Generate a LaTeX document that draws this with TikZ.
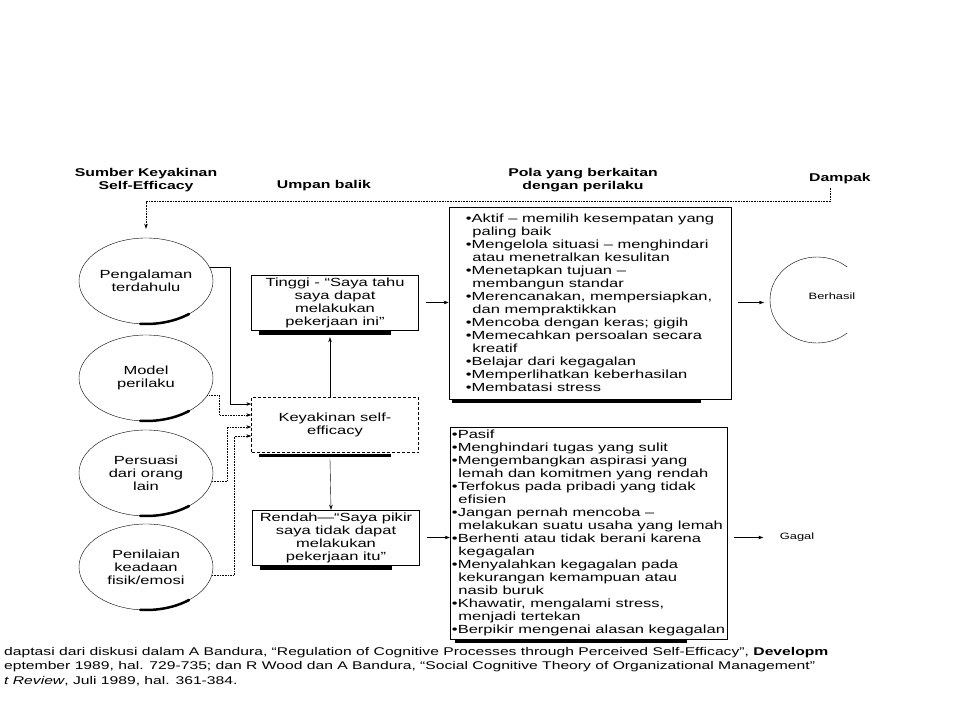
\documentclass[tikz,border=0pt]{standalone}
\usepackage{fontspec}
\setmainfont{Liberation Sans}[FakeStretch=1.4]
\usetikzlibrary{shapes.geometric, arrows.meta}

\newcommand{\teksisi}{\fontsize{11.8}{13}\selectfont}
\newcommand{\teksjudul}{\bfseries\fontsize{11.3}{12.5}\selectfont}
\newcommand{\tekskecil}{\fontsize{9.2}{11}\selectfont}
\newcommand{\tekssumber}{\fontsize{11.2}{14.5}\selectfont}
\newcommand{\itm}{\textbullet}
\newcommand{\cnt}{\hspace*{0.55em}}

\begin{document}
\begin{tikzpicture}[x=1pt, y=-1pt,
    sumber/.style={ellipse, draw, minimum width=134pt, minimum height=86pt, inner sep=0pt, align=center, font=\teksisi},
    kotak/.style={draw, minimum width=167pt, minimum height=55pt, inner sep=2pt, align=center, font=\teksisi},
    daftar/.style={draw, align=left, inner sep=0pt, font=\teksisi},
    judul/.style={align=center, font=\teksjudul},
    panah/.style={-{Stealth[length=5pt, width=3.5pt]}},
    titik/.style={densely dotted, semithick},
    bayang/.style={line width=3.5pt},
]

    % --- Parameter elips sumber ---
    \def\ex{146}    % pusat x elips
    \def\erx{67}    % jari-jari x
    \def\ery{43}    % jari-jari y

    \useasboundingbox (0,0) rectangle (959,719);

    % =========================================================================
    % JUDUL KOLOM
    % =========================================================================
    \node[judul] (jsumber) at (146,180) {Sumber Keyakinan\\Self-Efficacy};
    \node[judul] (jumpan) at (324,186) {Umpan balik};
    \node[judul] (jpola) at (583,180) {Pola yang berkaitan\\dengan perilaku};
    \node[judul] (dampak) at (840,179) {Dampak};

    % =========================================================================
    % SUMBER KEYAKINAN (elips kiri)
    % =========================================================================
    \node[sumber] (e1) at (\ex,281) {Pengalaman\\terdahulu};
    \node[sumber] (e2) at (\ex,378) {Model\\perilaku};
    \node[sumber] (e3) at (\ex,473) {Persuasi\\dari orang\\lain};
    \node[sumber] (e4) at (\ex,567) {Penilaian\\keadaan\\fisik/emosi};

    % bayangan elips
    \draw[line width=2.5pt, line cap=round] (e1.center) ++(50:\erx\space and \ery) arc[start angle=50, end angle=95, x radius=\erx, y radius=\ery];
    \draw[line width=2.5pt, line cap=round] (e2.center) ++(50:\erx\space and \ery) arc[start angle=50, end angle=95, x radius=\erx, y radius=\ery];
    \draw[line width=2.5pt, line cap=round] (e3.center) ++(50:\erx\space and \ery) arc[start angle=50, end angle=95, x radius=\erx, y radius=\ery];
    \draw[line width=2.5pt, line cap=round] (e4.center) ++(50:\erx\space and \ery) arc[start angle=50, end angle=95, x radius=\erx, y radius=\ery];

    % =========================================================================
    % KEYAKINAN SELF-EFFICACY (kotak tengah)
    % =========================================================================
    \node[kotak] (tinggi) at (335,302.5) {Tinggi - “Saya tahu\\saya dapat\\melakukan\\pekerjaan ini”};
    \node[kotak, densely dashed] (keyakinan) at (335,425) {Keyakinan self-\\efficacy};
    \node[kotak] (rendah) at (336,537.5) {Rendah—“Saya pikir\\saya tidak dapat\\melakukan\\pekerjaan itu”};

    % bayangan kotak
    \draw[bayang] ([shift={(8pt,-3pt)}]tinggi.south west) -- ([shift={(-28pt,-3pt)}]tinggi.south east);
    \draw[bayang] ([shift={(8pt,-3pt)}]keyakinan.south west) -- ([shift={(-28pt,-3pt)}]keyakinan.south east);
    \draw[bayang] ([shift={(8pt,-3pt)}]rendah.south west) -- ([shift={(-28pt,-3pt)}]rendah.south east);

    % 1. Sumber -> keyakinan
    \draw[panah, semithick] (e1.12) -- ++(20,0) |- ([yshift=21pt]keyakinan.west);
    \draw[panah, titik] (e2.-16) -- ++(12,0) |- ([yshift=10pt]keyakinan.west);
    \draw[panah, titik] (e3.-7) -- ++(15,0) |- ([yshift=-2pt]keyakinan.west);
    \draw[panah, titik] (e4.-7) -- ++(22,0) |- ([yshift=-11pt]keyakinan.west);

    % 2. Keyakinan -> tinggi / rendah
    \draw[panah] ([xshift=-5pt]keyakinan.north) -- ([shift={(-5pt,-7pt)}]tinggi.south);
    \draw[panah] ([shift={(-5pt,-6pt)}]keyakinan.south) -- ([xshift=-5pt]rendah.north);

    % =========================================================================
    % POLA PERILAKU (kotak daftar)
    % =========================================================================
    \node[daftar, semithick, minimum width=282pt, minimum height=192pt] (aktif) at (590,303) {%
        \itm Aktif -- memilih kesempatan yang\\
        \cnt paling baik\\
        \itm Mengelola situasi -- menghindari\\
        \cnt atau menetralkan kesulitan\\
        \itm Menetapkan tujuan --\\
        \cnt membangun standar\\
        \itm Merencanakan, mempersiapkan,\\
        \cnt dan mempraktikkan\\
        \itm Mencoba dengan keras; gigih\\
        \itm Memecahkan persoalan secara\\
        \cnt kreatif\\
        \itm Belajar dari kegagalan\\
        \itm Memperlihatkan keberhasilan\\
        \itm Membatasi stress};
    \node[daftar, minimum width=277pt, minimum height=212pt] (pasif) at (588.5,533) {%
        \itm Pasif\\
        \itm Menghindari tugas yang sulit\\
        \itm Mengembangkan aspirasi yang\\
        \cnt lemah dan komitmen yang rendah\\
        \itm Terfokus pada pribadi yang tidak\\
        \cnt efisien\\
        \itm Jangan pernah mencoba --\\
        \cnt melakukan suatu usaha yang lemah\\
        \itm Berhenti atau tidak berani karena\\
        \cnt kegagalan\\
        \itm Menyalahkan kegagalan pada\\
        \cnt kekurangan kemampuan atau\\
        \cnt nasib buruk\\
        \itm Khawatir, mengalami stress,\\
        \cnt menjadi tertekan\\
        \itm Berpikir mengenai alasan kegagalan};

    % bayangan kotak daftar
    \draw[bayang] ([shift={(3pt,-2pt)}]aktif.south west) -- ([shift={(-30pt,-2pt)}]aktif.south east);
    \draw[bayang] ([shift={(5pt,-2pt)}]pasif.south west) -- ([shift={(-40pt,-2pt)}]pasif.south east);

    % 3. Tinggi / rendah -> pola
    \draw[panah] ([xshift=7pt]tinggi.east) -- (aktif.west |- tinggi.east);
    \draw[panah] ([xshift=7pt]rendah.east) -- (pasif.west |- rendah.east);

    % =========================================================================
    % DAMPAK
    % =========================================================================
    \coordinate (berhasilkiri) at (764,302.5);
    \draw (817,300) ++(-50:47 and 43) arc[start angle=-50, end angle=-310, x radius=47, y radius=43];
    \node[font=\tekskecil] (berhasil) at (832,296) {Berhasil};
    \node[font=\tekskecil] (gagal) at (797,537.5) {Gagal};

    \draw[panah, shorten <=7pt] (aktif.east |- berhasilkiri) -- (berhasilkiri);
    \draw[panah, shorten <=7pt, shorten >=13pt] (pasif.east |- gagal) -- (gagal.west);

    % 4. Umpan balik (garis titik-titik)
    \draw[panah, titik, shorten >=9pt] ([xshift=-10pt]dampak.south) -- ++(0,14) -| (e1.north);

    % =========================================================================
    % SUMBER KUTIPAN
    % =========================================================================
    \node[anchor=north west, align=left, inner sep=0pt, font=\tekssumber] (kutipan) at (4,647) {%
        daptasi dari diskusi dalam A Bandura, “Regulation of Cognitive Processes through Perceived Self-Efficacy”, \textbf{Developm}\\
        eptember 1989, hal. 729-735; dan R Wood dan A Bandura, “Social Cognitive Theory of Organizational Management”\\
        \textit{t Review}, Juli 1989, hal. 361-384.};

\end{tikzpicture}
\end{document}
